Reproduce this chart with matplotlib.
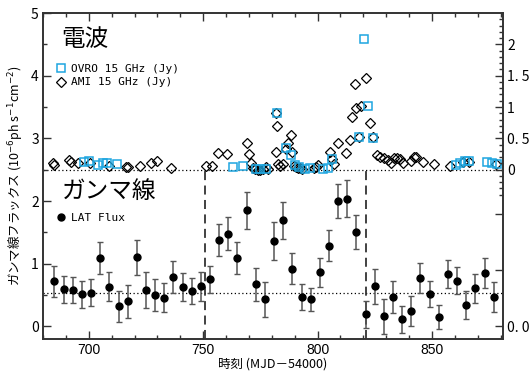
import matplotlib
matplotlib.use("Agg")
import matplotlib.pyplot as plt
from matplotlib.lines import Line2D
from matplotlib.ticker import MultipleLocator, FixedLocator

plt.rcParams['font.family'] = ['Noto Sans CJK JP', 'DejaVu Sans']

# --- LAT gamma-ray flux (10^-6 ph s^-1 cm^-2), 4-day bins
lat_mjd = [685 + 4 * i for i in range(49)]
lat_flux = [0.72, 0.59, 0.575, 0.51, 0.54, 1.09, 0.63, 0.32, 0.40, 1.10,
            0.575, 0.50, 0.46, 0.79, 0.63, 0.56, 0.64, 0.75, 1.38, 1.48,
            1.09, 1.85, 0.67, 0.43, 1.36, 1.69, 0.92, 0.47, 0.43, 0.86,
            1.29, 2.00, 2.04, 1.51, 0.19, 0.64, 0.16, 0.47, 0.11, 0.24,
            0.77, 0.52, 0.15, 0.84, 0.73, 0.34, 0.61, 0.85, 0.47]
lat_err = [0.25, 0.21, 0.21, 0.21, 0.21, 0.25, 0.23, 0.25, 0.26, 0.28,
           0.29, 0.25, 0.23, 0.26, 0.22, 0.21, 0.23, 0.22, 0.25, 0.26,
           0.26, 0.29, 0.26, 0.28, 0.30, 0.30, 0.25, 0.21, 0.19, 0.23,
           0.25, 0.27, 0.29, 0.27, 0.22, 0.28, 0.28, 0.26, 0.22, 0.24,
           0.24, 0.21, 0.19, 0.22, 0.22, 0.23, 0.23, 0.24, 0.24]

# --- OVRO 15 GHz (Jy)
ovro_mjd = [697.7, 699.9, 704.0, 706.2, 707.9, 712.3, 763.1, 767.2, 773.0,
            775.0, 777.4, 782.1, 786.3, 788.2, 790.2, 792.1, 794.3, 796.5,
            802.3, 804.4, 806.2, 818.2, 820.4, 822.2, 824.3, 860.4, 862.3,
            864.3, 866.2, 874.2, 876.4, 878.6]
ovro_jy = [0.13, 0.145, 0.08, 0.10, 0.10, 0.09, 0.04, 0.065, 0.015,
           0.01, 0.015, 0.91, 0.35, 0.24, 0.075, 0.05, 0.01, 0.02,
           0.01, 0.02, 0.17, 0.52, 2.08, 1.02, 0.51, 0.075, 0.10,
           0.14, 0.14, 0.13, 0.10, 0.09]

# --- AMI 15 GHz (Jy)
ami_mjd = [684.2, 685.0, 691.2, 692.2, 695.1, 700.7, 709.0, 716.4, 717.0,
           722.2, 727.1, 730.0, 736.0, 751.1, 754.0, 756.3, 760.3, 769.0,
           770.1, 770.9, 771.8, 772.8, 774.0, 774.7, 776.2, 777.4, 778.3,
           782.0, 782.1, 781.9, 782.8, 783.8, 784.7, 786.4, 787.1, 788.2,
           789.0, 789.6, 790.5, 791.5, 792.3, 793.2, 798.3, 799.2, 800.2,
           805.3, 806.3, 807.0, 809.1, 812.3, 814.0, 815.0, 816.2, 817.0,
           818.1, 819.1, 821.3, 823.1, 824.2, 825.9, 827.4, 828.9, 830.8,
           831.9, 833.2, 834.8, 836.1, 837.3, 840.9, 842.0, 843.1, 846.0,
           850.7, 857.9, 863.7, 866.4, 878.0]
ami_jy = [0.10, 0.08, 0.155, 0.13, 0.11, 0.10, 0.064, 0.05, 0.04,
          0.064, 0.11, 0.144, 0.032, 0.053, 0.056, 0.26, 0.25, 0.43,
          0.25, 0.10, 0.03, 0.01, 0.0, 0.0, 0.01, 0.04, 0.015,
          0.91, 0.70, 0.29, 0.09, 0.064, 0.09, 0.33, 0.42, 0.56,
          0.29, 0.065, 0.05, 0.03, 0.02, 0.01, 0.02, 0.04, 0.08,
          0.29, 0.17, 0.09, 0.42, 0.26, 0.47, 0.84, 1.36, 0.99,
          0.52, 1.02, 1.47, 0.74, 0.52, 0.24, 0.21, 0.19, 0.155,
          0.11, 0.18, 0.18, 0.165, 0.11, 0.14, 0.20, 0.20, 0.13,
          0.09, 0.064, 0.13, 0.13, 0.09]

radio_offset = 2.5   # radio zero sits at 2.5 on the left scale
lat_mean = 0.53
flare_start, flare_end = 751, 821

fig = plt.figure(figsize=(5.31, 3.72), dpi=100)
ax = fig.add_axes([0.081, 0.089, 0.866, 0.876])
ax.set_xlim(680, 881)
ax.set_ylim(-0.2, 5.0)

axis_col = '#333333'
blue = '#1ea6e0'

# reference lines
ax.axhline(radio_offset, color='black', ls=(0, (1, 2)), lw=0.9, zorder=1)
ax.axhline(lat_mean, color='black', ls=(0, (1, 2)), lw=0.9, zorder=1)
for xv in (flare_start, flare_end):
    ax.plot([xv, xv], [-0.2, radio_offset], color='#333333', ls=(0, (5, 3)),
            lw=1.3, zorder=1)

# gamma rays
ax.errorbar(lat_mjd, lat_flux, yerr=lat_err, fmt='o', color='black',
            ms=5, ecolor='#555555', elinewidth=1.1, capsize=2.2,
            capthick=1.0, zorder=3)

# radio
ax.plot(ami_mjd, [v + radio_offset for v in ami_jy], ls='none', marker='D',
        ms=5, mfc='none', mec='black', mew=0.9, zorder=4)
ax.plot(ovro_mjd, [v + radio_offset for v in ovro_jy], ls='none', marker='s',
        ms=6.3, mfc='none', mec=blue, mew=1.1, zorder=4)

# ticks
ax.xaxis.set_major_locator(MultipleLocator(50))
ax.xaxis.set_minor_locator(MultipleLocator(10))
ax.yaxis.set_major_locator(MultipleLocator(1))
ax.yaxis.set_minor_locator(MultipleLocator(0.5))
ax.tick_params(which='both', direction='in', top=True, right=False,
               color=axis_col, width=1.0)
ax.tick_params(which='major', length=6)
ax.tick_params(which='minor', length=3)
ax.tick_params(axis='x', labelsize=10, pad=3)
ax.tick_params(axis='y', labelsize=10, pad=3)
for lab in ax.get_xticklabels():
    lab.set_family('Liberation Sans')
for s in ax.spines.values():
    s.set_color(axis_col)
    s.set_linewidth(1.2)

ax2 = ax.twinx()
ax2.set_ylim(ax.get_ylim())
right_pos = [0.0, 0.9, 1.8, 2.5, 3.0, 3.5, 4.0, 4.5]
right_lab = ['0. 0', '', '', '0', '0. 5', '1', '1. 5', '2']
ax2.yaxis.set_major_locator(FixedLocator(right_pos))
ax2.set_yticklabels(right_lab)
ax2.yaxis.set_minor_locator(FixedLocator(
    [radio_offset + 0.1 * k for k in range(-4, 25) if k % 5 != 0]))
ax2.tick_params(which='both', direction='in', color=axis_col, width=1.0,
                labelsize=10, pad=3)
ax2.tick_params(which='major', length=6)
ax2.tick_params(which='minor', length=3)
for s in ax2.spines.values():
    s.set_color(axis_col)
    s.set_linewidth(1.2)

# labels
ax.set_ylabel('ガンマ線フラックス (10$^{-6}$ph s$^{-1}$cm$^{-2}$)', fontsize=9,
              labelpad=4)
ax.set_xlabel('時刻 (MJD－54000)', fontsize=9, labelpad=0)

ax.text(0.04, 0.92, '電波', transform=ax.transAxes, fontsize=17,
        va='center', ha='left')
ax.text(0.04, 0.452, 'ガンマ線', transform=ax.transAxes, fontsize=17,
        va='center', ha='left')

radio_handles = [
    Line2D([], [], ls='none', marker='s', ms=6.3, mfc='none', mec=blue, mew=1.1),
    Line2D([], [], ls='none', marker='D', ms=5, mfc='none', mec='black', mew=0.9),
]
leg1 = ax.legend(radio_handles, ['OVRO 15 GHz (Jy)', 'AMI 15 GHz (Jy)'],
                 loc='upper left', bbox_to_anchor=(0.02, 0.857), frameon=False,
                 handlelength=0.8, handletextpad=0.5, labelspacing=0.3,
                 borderaxespad=0, prop={'family': 'DejaVu Sans Mono', 'size': 8})
ax.add_artist(leg1)
lat_handle = [Line2D([], [], ls='none', marker='o', ms=5, color='black')]
ax.legend(lat_handle, ['LAT Flux'], loc='upper left',
          bbox_to_anchor=(0.02, 0.4), frameon=False, handlelength=0.8,
          handletextpad=0.5, borderaxespad=0,
          prop={'family': 'DejaVu Sans Mono', 'size': 8})

fig.savefig('out.png', dpi=100)
